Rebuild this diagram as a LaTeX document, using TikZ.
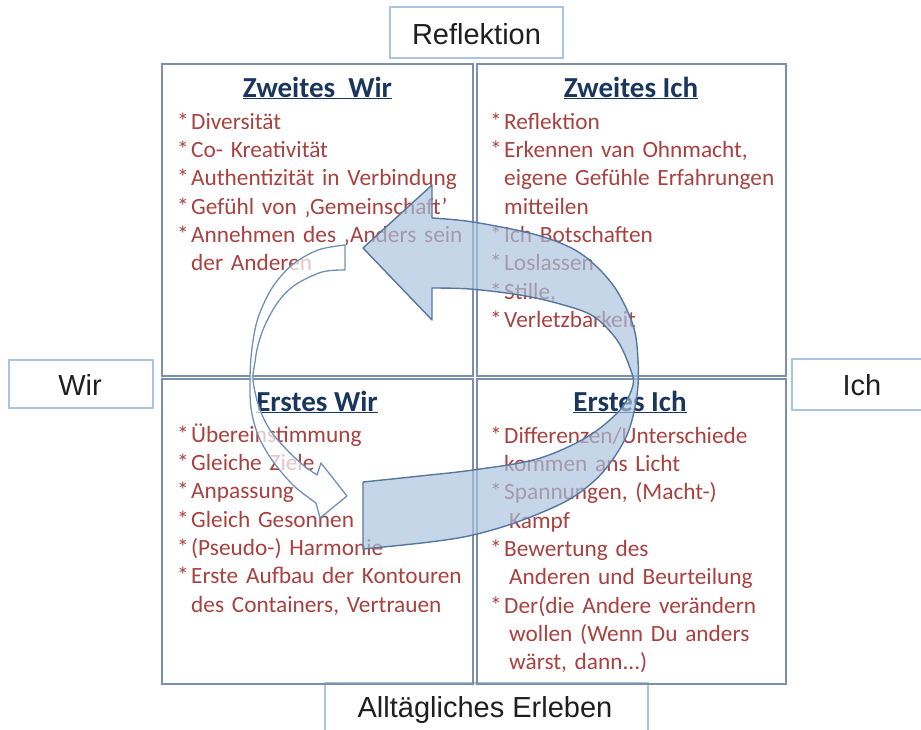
\documentclass[tikz,border=0pt]{standalone}
\usepackage{fontspec}
\setmainfont{Carlito}
\newfontfamily\labfont{Liberation Sans}
\definecolor{gridc}{HTML}{7D90AA}
\definecolor{labc}{HTML}{A9C3E2}
\definecolor{titc}{HTML}{1B365D}
\definecolor{bulc}{HTML}{A8413F}
\definecolor{arrfill}{HTML}{A9C2DF}
\definecolor{arrline}{HTML}{56779F}
\definecolor{warrline}{HTML}{7190B8}
\newcommand{\bitem}[1]{\par\noindent\hangindent=14pt\hangafter=1\makebox[14pt][l]{*}#1}
\newcommand{\bfirst}[1]{\noindent\hangindent=14pt\hangafter=1\rule{0pt}{22pt}\makebox[14pt][l]{*}#1}
\tikzset{
  quad/.style={draw=gridc, line width=1.8pt},
  labbox/.style={draw=labc, line width=1.2pt, fill=white},
  labt/.style={anchor=base, inner sep=0pt, text=black!88, font=\labfont\fontsize{29}{34}\selectfont},
  titl/.style={anchor=base, inner sep=0pt, text=titc, font=\bfseries\fontsize{29}{34}\selectfont},
  body/.style={anchor=north west, inner sep=0pt, text width=292pt, align=left, text=bulc, font=\fontsize{23.3}{28.3}\selectfont},
  bigarrow/.style={fill=arrfill, fill opacity=0.68, draw=arrline, line width=1.4pt, line join=round},
  whitearrow/.style={fill=white, fill opacity=0.7, draw=warrline, line width=1.3pt, line join=round}
}
\begin{document}
\begin{tikzpicture}[x=1pt, y=-1pt]
\useasboundingbox (0,0) rectangle (921,729);
\clip (0,0) rectangle (921,729);
% label boxes
\draw[labbox] (390,7) rectangle (563,58);
\draw[labbox] (9,360) rectangle (153,408);
\draw[labbox] (792,359) rectangle (935,410);
\draw[labbox] (325,683) rectangle (648,740);
\node[labt] (reflt) at (476.5,44) {Reflektion};
\node[labt] (wirt) at (80,395) {Wir};
\node[labt] (icht) at (862,395) {Ich};
\node[labt] (allt) at (485,717) {Alltägliches Erleben};
% quadrants
\draw[quad] (162,64) rectangle (473,376);
\draw[quad] (477,64) rectangle (786,376);
\draw[quad] (162,379) rectangle (473,684);
\draw[quad] (477,379) rectangle (786,684);
% titles
\node[titl] (tzw) at (317.5,97) {\underline{Zweites~~Wir}};
\node[titl] (tzi) at (631,97) {\underline{Zweites Ich}};
\node[titl] (tew) at (317,411) {\underline{Erstes Wir}};
\node[titl] (tei) at (630,411) {\underline{Erstes Ich}};
% bodies
\node[body] (bzw) at (177,107) {\bfirst{Diversität}
\bitem{Co- Kreativität}
\bitem{Authentizität in Verbindung}
\bitem{Gefühl von ‚Gemeinschaft’}
\bitem{Annehmen des ‚Anders sein\newline der Anderen}\par};
\node[body] (bzi) at (490,107) {\bfirst{Reflektion}
\bitem{Erkennen van Ohnmacht,\newline eigene Gefühle Erfahrungen\newline mitteilen}
\bitem{Ich Botschaften}
\bitem{Loslassen}
\bitem{Stille,}
\bitem{Verletzbarkeit}\par};
\node[body] (bew) at (177,420) {\bfirst{Übereinstimmung}
\bitem{Gleiche Ziele}
\bitem{Anpassung}
\bitem{Gleich Gesonnen}
\bitem{(Pseudo-) Harmonie}
\bitem{Erste Aufbau der Kontouren\newline des Containers, Vertrauen}\par};
\node[body] (bei) at (490,421) {\bfirst{Differenzen/Unterschiede\newline kommen ans Licht}
\bitem{Spannungen, (Macht-)\newline\hspace*{5pt}Kampf}
\bitem{Bewertung des\newline\hspace*{5pt}Anderen und Beurteilung}
\bitem{Der(die Andere verändern\newline\hspace*{5pt}wollen (Wenn Du anders\newline\hspace*{5pt}wärst, dann...)}\par};
% big curved arrow
\filldraw[bigarrow] plot[smooth, tension=0.55] coordinates {(363,482) (420,476) (473,470) (537,459) (587,437) (620,410) (633,385) (630,368) (617,340) (593,316) (560,304) (520,295) (470,289) (432,288)}
 -- (432,320) -- (363,248) -- (432,185) -- (432,218)
 -- plot[smooth, tension=0.55] coordinates {(432,218) (473,222) (537,235) (580,253) (613,285) (633,325) (638,360) (637,395) (627,435) (603,472) (570,499) (520,521) (473,535) (430,542) (363,549)}
 -- cycle;
% white curved arrow
\filldraw[whitearrow] plot[smooth, tension=0.55] coordinates {(345,245) (318,250) (292,265) (272,288) (258,318) (252,348) (250,378) (251,408) (258,435) (272,460) (293,485) (316,503)}
 -- (320,518) -- (347,496) -- (321,463) -- (317,475)
 -- plot[smooth, tension=0.55] coordinates {(317,475) (303,465) (287,450) (270,430) (259,407) (253,380) (255,362) (258,345) (265,325) (278,302) (295,285) (322,272) (345,270)}
 -- cycle;
\end{tikzpicture}
\end{document}
